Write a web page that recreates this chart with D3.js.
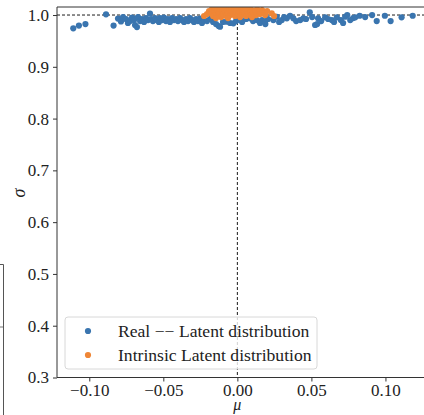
<!DOCTYPE html>
<html>
<head>
<meta charset="utf-8">
<script src="https://cdn.jsdelivr.net/npm/d3@7"></script>
<style>
  html, body { margin: 0; padding: 0; background: #fff; }
  svg { display: block; }
</style>
</head>
<body>
<svg id="chart" width="424" height="415"></svg>
<script>
// ---- data ----
const seriesNames = ["Real \u2212\u2212 Latent distribution", "Intrinsic Latent distribution"];
const seriesColors = ["#3a75af", "#ef8636"];
const xTickValues = [-0.10, -0.05, 0.00, 0.05, 0.10];
const yTickValues = [0.3, 0.4, 0.5, 0.6, 0.7, 0.8, 0.9, 1.0];
const xLabel = "\u03bc";
const yLabel = "\u03c3";

const realMu = [-0.1108,-0.1070,-0.1026,-0.0887,-0.0836,-0.0806,-0.0786,-0.0772,
 -0.0752,-0.0739,-0.0725,-0.0711,-0.0698,-0.0691,-0.0678,-0.0671,-0.0657,-0.0644,-0.0630,-0.0617,-0.0603,-0.0590,-0.0583,-0.0570,-0.0556,-0.0543,-0.0530,-0.0523,-0.0509,-0.0496,-0.0482,-0.0469,-0.0455,-0.0441,-0.0428,-0.0414,-0.0401,-0.0387,-0.0374,-0.0360,-0.0347,-0.0333,-0.0320,-0.0306,-0.0293,-0.0279,-0.0266,-0.0252,-0.0239,-0.0225,
 -0.0205,-0.0185,-0.0164,-0.0144,-0.0126,-0.0117,-0.0097,-0.0072,-0.0049,-0.0027,-0.0009,0.0018,0.0032,0.0059,0.0086,0.0106,0.0131,0.0153,0.0167,0.0189,0.0187,0.0207,
 0.0243,0.0266,0.0282,0.0300,0.0316,0.0334,0.0356,0.0378,0.0397,0.0424,0.0446,0.0464,0.0489,0.0505,0.0525,0.0539,0.0545,0.0566,0.0593,0.0613,0.0638,0.0653,0.0672,0.0699,0.0714,0.0728,0.0742,0.0762,0.0782,0.0796,0.0826,
 0.0863,0.0910,0.0941,0.0996,0.1035,0.1109,0.1184];
const realSigma = [0.9743,0.9797,0.9826,1.0014,0.9797,0.9932,0.9875,0.9961,
 0.9923,0.9846,0.9884,0.9952,0.9903,0.9807,0.9768,0.9961,0.9884,0.9923,0.9865,0.9942,0.9903,1.0029,0.9923,0.9884,0.9942,0.9903,0.9865,0.9942,0.9903,0.9952,0.9884,0.9923,0.9865,0.9942,0.9903,0.9923,0.9884,0.9942,0.9903,0.9865,0.9923,0.9884,0.9942,0.9903,0.9865,0.9923,0.9884,0.9932,0.9846,0.9903,
 0.9884,0.9923,0.9865,0.9826,0.9788,0.9774,0.9865,0.9871,0.9846,0.9840,0.9884,0.9903,0.9865,0.9923,0.9936,0.9884,0.9903,0.9846,0.9903,0.9826,0.9871,0.9923,
 0.9903,0.9967,0.9865,0.9903,0.9961,0.9936,0.9986,0.9936,0.9884,0.9903,0.9936,0.9923,1.0052,0.9961,0.9807,0.9826,0.9936,0.9884,0.9956,0.9923,0.9903,0.9865,0.9956,0.9903,0.9846,0.9967,1.0000,0.9903,0.9942,0.9956,0.9986,
 0.9961,1.0000,0.9884,0.9986,0.9884,0.9956,0.9986];

const intrinsicMu = [-0.0225,-0.0205,-0.0191,-0.0178,-0.0171,-0.0164,-0.0157,-0.0151,-0.0144,-0.0137,-0.0130,-0.0124,-0.0117,-0.0110,-0.0103,-0.0097,-0.0090,-0.0083,-0.0076,-0.0070,-0.0063,-0.0056,-0.0049,-0.0043,-0.0036,-0.0029,-0.0022,-0.0016,-0.0009,-0.0002,0.0005,0.0011,0.0018,0.0025,0.0032,0.0039,0.0045,0.0052,0.0059,0.0066,0.0072,0.0079,0.0086,0.0093,0.0099,0.0106,0.0120,0.0126,0.0133,0.0147,0.0153,0.0167,0.0180,0.0187,0.0201,0.0232,0.0248,-0.0144,-0.0063,0.0018,0.0099,-0.0103,-0.0009,0.0059];
const intrinsicSigma = [0.9981,1.0019,1.0077,1.0039,1.0116,0.9981,1.0077,1.0135,1.0039,1.0097,1.0000,1.0058,1.0116,0.9961,1.0077,1.0019,1.0135,1.0058,0.9981,1.0097,1.0039,1.0116,1.0000,1.0077,1.0135,1.0039,1.0097,0.9981,1.0058,1.0116,1.0019,1.0077,1.0135,1.0000,1.0058,1.0097,1.0039,1.0116,0.9981,1.0077,1.0019,1.0116,1.0058,1.0000,1.0097,1.0039,1.0077,1.0000,1.0116,1.0058,1.0019,1.0097,1.0039,1.0000,1.0077,1.0033,0.9981,0.9942,0.9942,0.9961,0.9961,1.0145,1.0145,1.0145];

// ---- layout ----
const FONT = '"Liberation Serif"';
const svg = d3.select("#chart");
const pL = 57, pR = 431.2, pT = 7, pB = 377.5;

const x = d3.scaleLinear().domain([-0.1218, 0.1309]).range([pL, pR]);
const y = d3.scaleLinear().domain([0.3, 1.0155]).range([pB, pT]);

svg.append("defs").append("clipPath").attr("id", "plotclip")
  .append("rect").attr("x", pL).attr("y", pT).attr("width", pR - pL).attr("height", pB - pT);

// fragment of neighbouring panel at far left
svg.append("path").attr("d", "M0,264.5 H3.5 V415").attr("fill", "none").attr("stroke", "#555").attr("stroke-width", 1);
svg.append("line").attr("x1", 0).attr("x2", 3).attr("y1", 327).attr("y2", 327).attr("stroke", "#777").attr("stroke-width", 1);

// reference lines
const refG = svg.append("g").attr("clip-path", "url(#plotclip)");
refG.append("line").attr("x1", pL).attr("x2", pR).attr("y1", y(1.0)).attr("y2", y(1.0))
  .attr("stroke", "#000").attr("stroke-width", 0.9).attr("stroke-dasharray", "3,2");
refG.append("line").attr("x1", x(0)).attr("x2", x(0)).attr("y1", pT).attr("y2", pB)
  .attr("stroke", "#000").attr("stroke-width", 0.9).attr("stroke-dasharray", "3,2");

// points
const realData = realMu.map((m, i) => ({mu: m, sigma: realSigma[i]}));
const intrinsicData = intrinsicMu.map((m, i) => ({mu: m, sigma: intrinsicSigma[i]}));
const ptsG = svg.append("g").attr("clip-path", "url(#plotclip)");
[realData, intrinsicData].forEach((data, k) => {
  ptsG.append("g").selectAll("circle").data(data).join("circle")
    .attr("cx", d => x(d.mu)).attr("cy", d => y(d.sigma)).attr("r", 3.1)
    .attr("fill", seriesColors[k]);
});

// axes
const xAxis = d3.axisBottom(x).tickValues(xTickValues).tickSize(4).tickPadding(2)
  .tickFormat(d => d3.format(".2f")(d).replace("-", "\u2212"));
const gx = svg.append("g").attr("transform", `translate(0,${pB})`).call(xAxis);
gx.select(".domain").remove();
gx.selectAll(".tick line").attr("stroke", "#333");
gx.selectAll("text").style("font-family", FONT).style("font-size", "17px").attr("fill", "#222");

const yAxis = d3.axisLeft(y).tickValues(yTickValues).tickSize(4).tickPadding(4)
  .tickFormat(d3.format(".1f"));
const gy = svg.append("g").attr("transform", `translate(${pL},0)`).call(yAxis);
gy.select(".domain").remove();
gy.selectAll(".tick line").attr("stroke", "#333");
gy.selectAll("text").style("font-family", FONT).style("font-size", "17px").attr("fill", "#222");

// spines
svg.append("line").attr("x1", pL).attr("x2", pL).attr("y1", pT).attr("y2", pB).attr("stroke", "#333").attr("stroke-width", 1);
svg.append("line").attr("x1", pL).attr("x2", 424).attr("y1", pB).attr("y2", pB).attr("stroke", "#333").attr("stroke-width", 1);
svg.append("line").attr("x1", pL).attr("x2", 424).attr("y1", pT).attr("y2", pT).attr("stroke", "#333").attr("stroke-width", 1);

// axis labels
svg.append("text").attr("x", x(0)).attr("y", 409.5).attr("text-anchor", "middle")
  .style("font-family", FONT).style("font-size", "16px").style("font-style", "italic").attr("fill", "#222").text(xLabel);
svg.append("text").attr("transform", `translate(25,193) rotate(-90)`)
  .attr("text-anchor", "middle").style("font-family", FONT).style("font-size", "18px")
  .style("font-style", "italic").attr("fill", "#222").text(yLabel);

// legend
const lg = svg.append("g");
lg.append("rect").attr("x", 65).attr("y", 317).attr("width", 252).attr("height", 52).attr("rx", 3)
  .attr("fill", "#fff").attr("fill-opacity", 0.8).attr("stroke", "#d8d8d8").attr("stroke-width", 1);
seriesNames.forEach((name, i) => {
  const cy = 331 + i * 24;
  lg.append("circle").attr("cx", 88).attr("cy", cy).attr("r", 3.1).attr("fill", seriesColors[i]);
  lg.append("text").attr("x", 118).attr("y", cy + 5.5)
    .style("font-family", FONT).style("font-size", "17.6px").attr("fill", "#222").text(name);
});
</script>
</body>
</html>
